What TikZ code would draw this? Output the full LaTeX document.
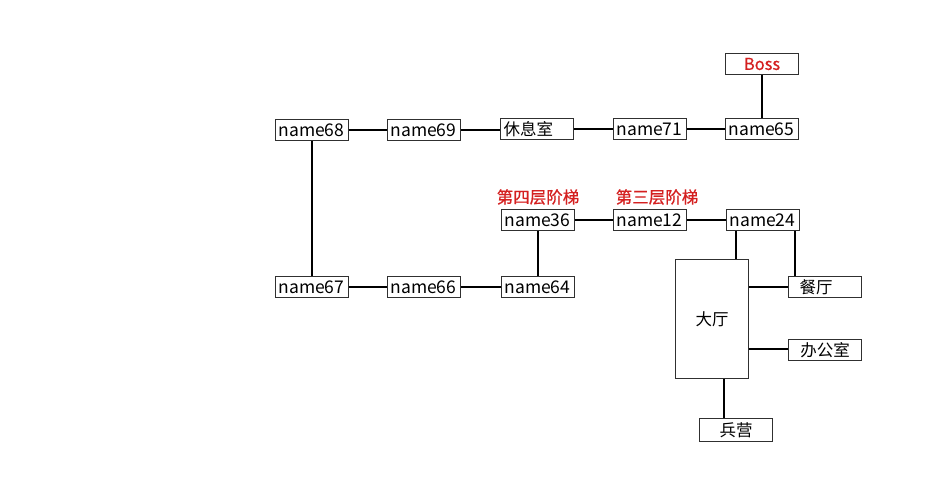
\documentclass[tikz,border=0pt]{standalone}
\usepackage{fontspec}
\setmainfont{Noto Sans CJK SC}
\newfontfamily\redfont{Noto Sans CJK SC}[FakeBold=0.6]
\definecolor{labred}{HTML}{D42020}
\definecolor{boxline}{HTML}{303030}
\begin{document}
\begin{tikzpicture}[x=1pt,y=-1pt,
  room/.style={draw=boxline, line width=1pt, minimum height=21pt, inner sep=0pt,
    text width=67pt, inner xsep=3pt, align=left, font=\fontsize{17.5}{17.5}\selectfont},
  cjkroom/.style={room, font=\fontsize{16.5}{16.5}\selectfont},
  cbox/.style={draw=boxline, line width=1pt, minimum width=73pt, minimum height=21pt,
    inner sep=0pt, align=center, font=\fontsize{16.5}{16.5}\selectfont},
  redlab/.style={text=labred, inner sep=0pt, font=\redfont\fontsize{16.5}{16.5}\selectfont},
  link/.style={draw=black, line width=2pt}]
\useasboundingbox (0,0) rectangle (942,502);
% top row
\node[room] (n68) at (312,130) {name68};
\node[room] (n69) at (424,130) {name69};
\node[cjkroom] (rest) at (537,129) {休息室};
\node[room] (n71) at (650,129) {name71};
\node[room] (n65) at (762,129) {name65};
\node[cbox, text=labred, font=\redfont\fontsize{16.5}{16.5}\selectfont] (boss) at (762,64) {Boss};
% middle row
\node[room] (n36) at (538,220) {name36};
\node[room] (n12) at (650,220) {name12};
\node[room] (n24) at (763,220) {name24};
\node[redlab] (l4) at (538,197) {第四层阶梯};
\node[redlab] (l3) at (657,197) {第三层阶梯};
% bottom row
\node[room] (n67) at (312,287) {name67};
\node[room] (n66) at (424,287) {name66};
\node[room] (n64) at (538,287) {name64};
% hall block
\node[cbox, minimum height=119pt] (hall) at (712,319) {大厅};
\node[cbox] (dining) at (825,287) {\hspace*{-18pt}餐厅};
\node[cbox] (office) at (825,350) {办公室};
\node[cbox, minimum height=23pt] (barracks) at (736,430) {兵营};
% connectors
\draw[link] (n68.east) -- (n69.west);
\draw[link] (n69.east) -- (n69.east -| rest.west);
\draw[link] (rest.east) -- (n71.west);
\draw[link] (n71.east) -- (n65.west);
\draw[link] (n65.north) -- (boss.south);
\draw[link] (n68.south) -- (n67.north);
\draw[link] (n67.east) -- (n66.west);
\draw[link] (n66.east) -- (n64.west);
\draw[link] (n36.south) -- (n64.north);
\draw[link] (n36.east) -- (n12.west);
\draw[link] (n12.east) -- (n24.west);
\draw[link] ([xshift=-27pt]n24.south) -- ([xshift=-27pt]n24.south |- hall.north);
\draw[link] ([xshift=32pt]n24.south) -- ([xshift=32pt]n24.south |- dining.north);
\draw[link] (hall.east |- dining.west) -- (dining.west);
\draw[link] ([yshift=1pt]hall.east |- office.west) -- ([yshift=1pt]office.west);
\draw[link] ([xshift=12pt]hall.south) -- ([xshift=12pt]hall.south |- barracks.north);
\end{tikzpicture}
\end{document}
